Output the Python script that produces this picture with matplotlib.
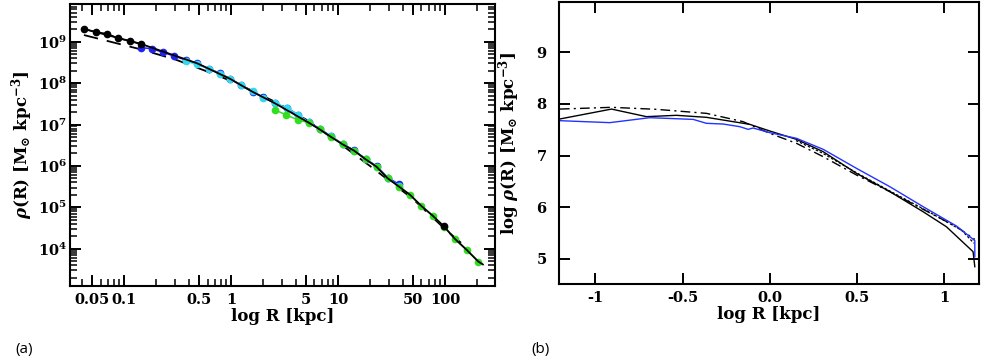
import numpy as np
import matplotlib
matplotlib.use("Agg")
import matplotlib.pyplot as plt
from matplotlib.ticker import FixedLocator, NullFormatter

plt.rcParams['font.family'] = ['DejaVu Serif']
plt.rcParams['mathtext.fontset'] = 'dejavuserif'
plt.rcParams['font.weight'] = 'bold'
plt.rcParams['xtick.direction'] = 'in'
plt.rcParams['ytick.direction'] = 'in'
plt.rcParams['xtick.top'] = True
plt.rcParams['ytick.right'] = True
plt.rcParams['xtick.major.size'] = 8
plt.rcParams['ytick.major.size'] = 8
plt.rcParams['xtick.minor.size'] = 5
plt.rcParams['ytick.minor.size'] = 5
plt.rcParams['xtick.major.width'] = 1.4
plt.rcParams['ytick.major.width'] = 1.4
plt.rcParams['xtick.minor.width'] = 1.1
plt.rcParams['ytick.minor.width'] = 1.1

# ---- panel (a): density profiles, log10 values ----
r_black = [0.042, 0.054, 0.069, 0.088, 0.112, 0.144, 98]
lrho_black = [9.307, 9.234, 9.193, 9.082, 9.017, 8.944, 4.56]

r_blue = [0.144, 0.18, 0.23, 0.29, 0.375, 0.48, 0.62, 0.78, 0.98, 1.23, 1.58, 2.0,
          2.57, 3.3, 4.2, 5.3, 6.7, 8.5, 11, 14, 18, 23, 29, 37]
lrho_blue = [8.855, 8.831, 8.744, 8.655, 8.558, 8.478, 8.34, 8.244, 8.10, 7.947, 7.79, 7.66,
             7.51, 7.40, 7.23, 7.06, 6.90, 6.72, 6.53, 6.38, 6.17, 5.99, 5.72, 5.555]

r_cyan = [0.375, 0.48, 0.62, 0.78, 0.98, 1.23, 1.58, 2.0, 2.57, 3.3, 4.2, 5.3, 6.7,
          8.5, 11, 14, 18, 23, 29, 37]
lrho_cyan = [8.53, 8.45, 8.35, 8.23, 8.11, 7.95, 7.80, 7.65, 7.52, 7.40, 7.24, 7.05, 6.89,
             6.72, 6.52, 6.37, 6.17, 5.98, 5.71, 5.51]

r_green = [2.58, 3.27, 4.2, 5.3, 6.7, 8.5, 11, 14.1, 18, 22.8, 29, 37, 47, 60, 77, 98,
           123, 159, 204]
lrho_green = [7.35, 7.23, 7.11, 7.044, 6.884, 6.705, 6.52, 6.367, 6.16, 5.98, 5.70, 5.50,
              5.30, 5.03, 4.79, 4.53, 4.24, 3.97, 3.69]

r_fit = [0.042, 0.144, 0.48, 0.98, 1.58, 2.57, 5.3, 6.7, 8.5, 11, 14.1, 18, 22.8, 29,
         37, 47, 60, 77, 98, 123, 159, 204, 225]
lrho_fit = [9.307, 8.944, 8.478, 8.10, 7.79, 7.51, 7.044, 6.884, 6.705, 6.52, 6.367, 6.16,
            5.98, 5.70, 5.50, 5.30, 5.03, 4.79, 4.53, 4.24, 3.97, 3.69, 3.62]

r_dash = [0.042, 0.14, 0.3, 0.79, 1.5, 2.7, 5, 10, 20, 50, 100, 150]
lrho_dash = [9.16, 8.82, 8.57, 8.16, 7.84, 7.52, 7.12, 6.57, 5.99, 5.20, 4.47, 4.08]

# ---- panel (b) ----
x_solid = [-1.203, -0.907, -0.707, -0.535, -0.363, -0.115, 0.0, 0.153, 0.306, 0.497,
           0.688, 0.879, 1.012, 1.165, 1.175]
y_solid = [7.708, 7.90, 7.753, 7.779, 7.74, 7.604, 7.475, 7.313, 7.074, 6.654,
           6.30, 5.91, 5.62, 5.136, 4.845]

x_blue = [-1.203, -0.917, -0.688, -0.439, -0.363, -0.267, -0.172, -0.124, -0.096, 0.0,
          0.153, 0.306, 0.497, 0.688, 0.879, 1.07, 1.175, 1.175]
y_blue = [7.675, 7.637, 7.733, 7.70, 7.624, 7.61, 7.559, 7.507, 7.533, 7.443,
          7.333, 7.12, 6.751, 6.396, 6.008, 5.633, 5.35, 5.04]

x_dashdot = [-1.203, -0.907, -0.65, -0.363, -0.153, 0.0, 0.153, 0.306, 0.497, 0.688,
             0.879, 1.07, 1.175]
y_dashdot = [7.90, 7.934, 7.895, 7.817, 7.656, 7.43, 7.236, 6.977, 6.622, 6.30,
             5.956, 5.62, 5.375]

x_dotted = [0.15, 0.3, 0.5, 0.7, 0.9, 1.1, 1.17]
y_dotted = [7.29, 7.05, 6.66, 6.29, 5.93, 5.55, 5.30]

fig = plt.figure(figsize=(9.81, 3.61), dpi=100)
ax1 = fig.add_axes([70 / 981, 1 - 286 / 361, 425 / 981, 282 / 361])
ax2 = fig.add_axes([559 / 981, 1 - 284 / 361, 420 / 981, 282 / 361])

lw = 1.1
ms = 4.5
ax1.plot(r_dash, 10 ** np.array(lrho_dash), color='black', lw=1.3, dashes=(8, 5))
ax1.plot(r_blue, 10 ** np.array(lrho_blue), color='#2222ee', lw=lw, marker='o', ms=ms)
ax1.plot(r_cyan, 10 ** np.array(lrho_cyan), color='#33d8ee', lw=lw, marker='o', ms=ms)
ax1.plot(r_green, 10 ** np.array(lrho_green), color='#33dd22', lw=lw, marker='o', ms=ms)
ax1.plot(r_fit, 10 ** np.array(lrho_fit), color='black', lw=1.3)
ax1.plot(r_black, 10 ** np.array(lrho_black), color='black', lw=0, marker='o', ms=ms)
ax1.plot(r_black[:-1], 10 ** np.array(lrho_black[:-1]), color='black', lw=lw)

ax1.set_xscale('log')
ax1.set_yscale('log')
ax1.set_xlim(0.0311, 292)
ax1.set_ylim(10 ** 3.10, 10 ** 9.91)

# minor tick positions 2..9 per decade
minor_log = [m * 10.0 ** d for d in range(-3, 11) for m in range(2, 10)]

xt = [0.05, 0.1, 0.5, 1, 5, 10, 50, 100]
ax1.xaxis.set_major_locator(FixedLocator(xt))
ax1.xaxis.set_minor_locator(FixedLocator(minor_log))
ax1.xaxis.set_minor_formatter(NullFormatter())
ax1.set_xticklabels(['0.05', '0.1', '0.5', '1', '5', '10', '50', '100'],
                    fontweight='bold', fontsize=10.5)
yt = [1e4, 1e5, 1e6, 1e7, 1e8, 1e9]
ax1.yaxis.set_major_locator(FixedLocator(yt))
ax1.yaxis.set_minor_locator(FixedLocator(minor_log))
ax1.yaxis.set_minor_formatter(NullFormatter())
ax1.set_yticklabels([r'$\mathbf{10^{%d}}$' % k for k in range(4, 10)], fontsize=10.5)

ax1.set_xlabel('log R [kpc]', fontsize=12, fontweight='bold', labelpad=1)
ax1.set_ylabel(r'$\rho$(R) [M$_{\odot}$ kpc$^{\mathbf{-3}}$]', fontsize=12,
               fontweight='bold', labelpad=2)

ax2.plot(x_solid, y_solid, color='black', lw=1.0)
ax2.plot(x_dotted, y_dotted, color='black', lw=0.9, dashes=(2, 1.5))
ax2.plot(x_dashdot, y_dashdot, color='black', lw=1.0, dashes=(7, 3, 1.5, 3))
ax2.plot(x_blue, y_blue, color='#2233ff', lw=1.0)
ax2.set_xlim(-1.208, 1.199)
ax2.set_ylim(4.51, 9.975)
ax2.xaxis.set_major_locator(FixedLocator([-1, -0.5, 0, 0.5, 1]))
ax2.set_xticklabels(['-1', '-0.5', '0.0', '0.5', '1'], fontweight='bold', fontsize=10.5)
ax2.yaxis.set_major_locator(FixedLocator([5, 6, 7, 8, 9]))
ax2.set_yticklabels(['5', '6', '7', '8', '9'], fontweight='bold', fontsize=10.5)
ax2.set_xlabel('log R [kpc]', fontsize=12, fontweight='bold', labelpad=1)
ax2.set_ylabel(r'log $\rho$(R) [M$_{\odot}$ kpc$^{\mathbf{-3}}$]', fontsize=12,
               fontweight='bold', labelpad=10)

for ax in (ax1, ax2):
    for s in ax.spines.values():
        s.set_linewidth(1.5)
    ax.tick_params(which='both', color='black')
ax1.tick_params(axis='y', which='major', pad=2)
ax1.tick_params(axis='x', which='major', pad=5)
ax2.tick_params(axis='y', which='major', pad=9)
ax2.tick_params(axis='x', which='major', pad=5)

fig.text(24 / 981, 1 - 350 / 361, '(a)', fontsize=11, family='Open Sans',
         fontweight='normal', ha='center', va='center')
fig.text(540 / 981, 1 - 350 / 361, '(b)', fontsize=11, family='Open Sans',
         fontweight='normal', ha='center', va='center')

fig.savefig('out.png', dpi=100)
